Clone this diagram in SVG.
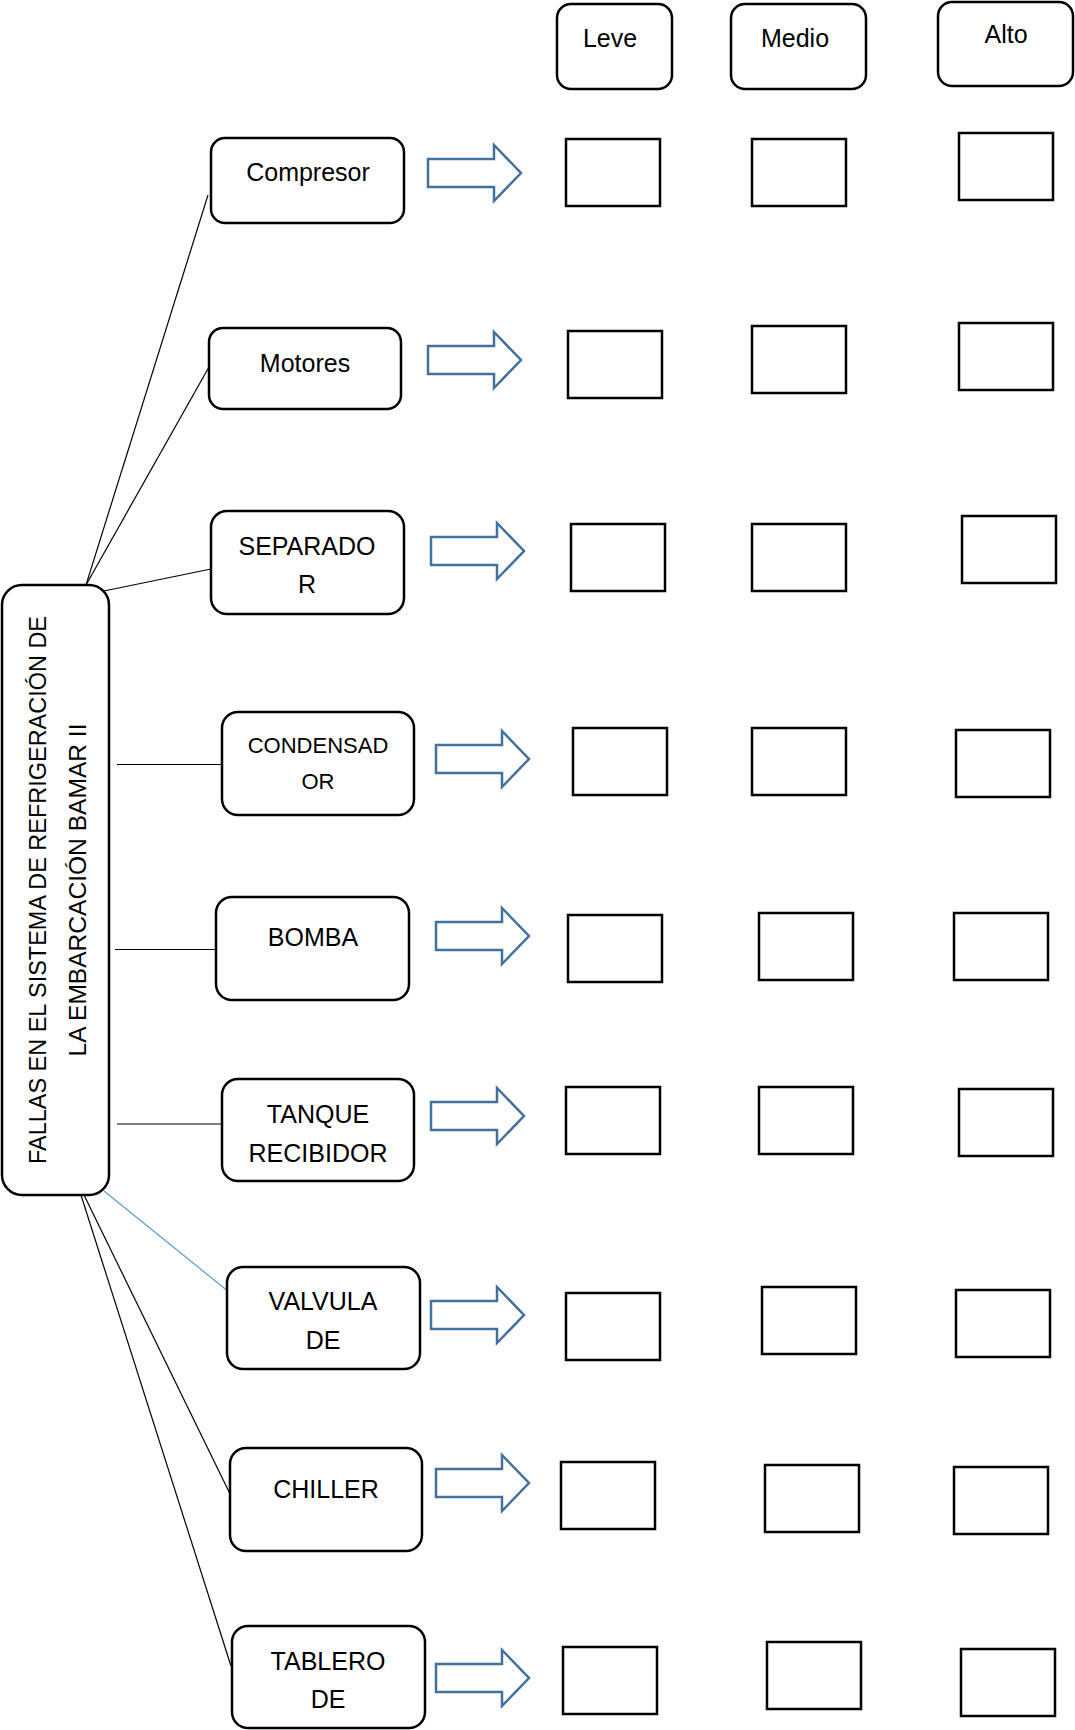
<svg xmlns="http://www.w3.org/2000/svg" width="1075" height="1730" viewBox="0 0 1075 1730">
<style>
.box{fill:#fff;stroke:#000;stroke-width:2.5}
.sq{fill:#fff;stroke:#000;stroke-width:2.5}
.arr{fill:#fff;stroke:#41719C;stroke-width:2.5;stroke-linejoin:miter}
.t{font-family:"Liberation Sans",Arial,sans-serif;font-size:25px;fill:#000;text-anchor:middle}
.ts{font-size:22px}
.ln{stroke:#000;stroke-width:1.2;fill:none}
.lb{stroke:#5B9BD5;stroke-width:1.2;fill:none}
</style>
<defs>
<path id="ar" class="arr" d="M0,-14 H66 V-28 L93,0 L66,28 V14 H0 Z"/>
</defs>
<g id="connectors">
<line class="ln" x1="86" y1="585" x2="208" y2="195"/>
<line class="ln" x1="86" y1="585" x2="209" y2="367"/>
<line class="ln" x1="99" y1="592" x2="211" y2="569"/>
<line class="ln" x1="117" y1="764.5" x2="225" y2="764.5"/>
<line class="ln" x1="115" y1="949.5" x2="222" y2="949.5"/>
<line class="ln" x1="117" y1="1124" x2="227" y2="1124"/>
<line class="lb" x1="104" y1="1191" x2="229" y2="1292"/>
<line class="ln" x1="84" y1="1195" x2="233" y2="1500"/>
<line class="ln" x1="80" y1="1192" x2="231" y2="1666"/>
</g>
<g id="root">
<rect class="box" x="2" y="585" width="107" height="610" rx="20"/>
<text class="t" font-size="23.5" style="font-size:23.5px" transform="translate(46,890) rotate(-90)" textLength="548" lengthAdjust="spacingAndGlyphs">FALLAS EN EL SISTEMA DE REFRIGERACIÓN DE</text>
<text class="t" style="font-size:23.5px" transform="translate(86,890) rotate(-90)" textLength="333" lengthAdjust="spacingAndGlyphs">LA EMBARCACIÓN BAMAR II</text>
</g>
<g id="hdr-leve"><rect class="box" x="557" y="4" width="115" height="85" rx="14"/><text class="t" x="610" y="47">Leve</text></g>
<g id="hdr-medio"><rect class="box" x="731" y="4" width="135" height="85" rx="14"/><text class="t" x="795" y="47">Medio</text></g>
<g id="hdr-alto"><rect class="box" x="938" y="2" width="135" height="84" rx="14"/><text class="t" x="1006" y="43">Alto</text></g>

<g id="n-compresor"><rect class="box" x="211" y="138" width="193" height="85" rx="14"/><text class="t" x="308" y="181">Compresor</text></g>
<g id="n-motores"><rect class="box" x="209" y="328" width="192" height="81" rx="14"/><text class="t" x="305" y="372">Motores</text></g>
<g id="n-separador"><rect class="box" x="211" y="511" width="193" height="103" rx="16"/><text class="t" x="307" y="555">SEPARADO</text><text class="t" x="307" y="593">R</text></g>
<g id="n-condensador"><rect class="box" x="222" y="712" width="192" height="103" rx="16"/><text class="t ts" x="318" y="753">CONDENSAD</text><text class="t ts" x="318" y="789">OR</text></g>
<g id="n-bomba"><rect class="box" x="216" y="897" width="193" height="103" rx="16"/><text class="t" x="313" y="946">BOMBA</text></g>
<g id="n-tanque"><rect class="box" x="222" y="1079" width="192" height="102" rx="16"/><text class="t" x="318" y="1123">TANQUE</text><text class="t" x="318" y="1162">RECIBIDOR</text></g>
<g id="n-valvula"><rect class="box" x="227" y="1267" width="193" height="102" rx="16"/><text class="t" x="323" y="1310">VALVULA</text><text class="t" x="323" y="1349">DE</text></g>
<g id="n-chiller"><rect class="box" x="230" y="1448" width="192" height="103" rx="16"/><text class="t" x="326" y="1498">CHILLER</text></g>
<g id="n-tablero"><rect class="box" x="232" y="1626" width="193" height="102" rx="16"/><text class="t" x="328" y="1670">TABLERO</text><text class="t" x="328" y="1708">DE</text></g>

<g id="arrows">
<use href="#ar" x="428" y="173"/>
<use href="#ar" x="428" y="360"/>
<use href="#ar" x="431" y="551"/>
<use href="#ar" x="436" y="759"/>
<use href="#ar" x="436" y="936"/>
<use href="#ar" x="431" y="1116"/>
<use href="#ar" x="431" y="1315"/>
<use href="#ar" x="436" y="1483"/>
<use href="#ar" x="436" y="1678"/>
</g>

<g id="grid">
<rect class="sq" x="566" y="139" width="94" height="67"/>
<rect class="sq" x="752" y="139" width="94" height="67"/>
<rect class="sq" x="959" y="133" width="94" height="67"/>

<rect class="sq" x="568" y="331" width="94" height="67"/>
<rect class="sq" x="752" y="326" width="94" height="67"/>
<rect class="sq" x="959" y="323" width="94" height="67"/>

<rect class="sq" x="571" y="524" width="94" height="67"/>
<rect class="sq" x="752" y="524" width="94" height="67"/>
<rect class="sq" x="962" y="516" width="94" height="67"/>

<rect class="sq" x="573" y="728" width="94" height="67"/>
<rect class="sq" x="752" y="728" width="94" height="67"/>
<rect class="sq" x="956" y="730" width="94" height="67"/>

<rect class="sq" x="568" y="915" width="94" height="67"/>
<rect class="sq" x="759" y="913" width="94" height="67"/>
<rect class="sq" x="954" y="913" width="94" height="67"/>

<rect class="sq" x="566" y="1087" width="94" height="67"/>
<rect class="sq" x="759" y="1087" width="94" height="67"/>
<rect class="sq" x="959" y="1089" width="94" height="67"/>

<rect class="sq" x="566" y="1293" width="94" height="67"/>
<rect class="sq" x="762" y="1287" width="94" height="67"/>
<rect class="sq" x="956" y="1290" width="94" height="67"/>

<rect class="sq" x="561" y="1462" width="94" height="67"/>
<rect class="sq" x="765" y="1465" width="94" height="67"/>
<rect class="sq" x="954" y="1467" width="94" height="67"/>

<rect class="sq" x="563" y="1647" width="94" height="67"/>
<rect class="sq" x="767" y="1642" width="94" height="67"/>
<rect class="sq" x="961" y="1649" width="94" height="67"/>
</g>
</svg>
